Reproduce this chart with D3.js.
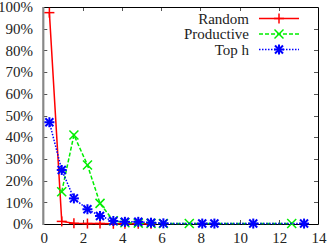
<!DOCTYPE html>
<html><head><meta charset="utf-8">
<script src="https://cdn.jsdelivr.net/npm/d3@7"></script>
<style>body{margin:0;background:#fff}svg{display:block}text{font-family:"Liberation Serif","DejaVu Serif",serif;fill:#222}</style>
</head><body><div id="c"></div>
<script>
const xs = [0.31,0.94,1.56,2.25,2.89,3.57,4.16,4.84,5.49,6.12,7.44,8.1,8.72,10.7,12.66,13.29];
const randomX = [0.31,0.94,1.56,2.25,2.89,3.57,4.16,4.84,5.49];
const randomY = [97.4,1.2,0.3,0.2,0.2,0.1,0.1,0.1,0.1];
const prodX = [0.94,1.56,2.25,2.89,3.57,4.16,4.84,5.49,6.12,7.44,12.66];
const prodY = [14.9,41.0,27.2,9.5,1.5,0.6,0.4,0.3,0.2,0.2,0.2];
const topX = [0.31,0.94,1.56,2.25,2.89,3.57,4.16,4.84,5.49,6.12,8.1,8.72,10.7,13.29];
const topY = [46.9,24.9,11.8,6.8,3.7,1.4,1.0,1.0,0.6,0.3,0.2,0.2,0.2,0.2];
const xTicks = [0,2,4,6,8,10,12,14];
const yTicks = [0,10,20,30,40,50,60,70,80,90,100];
const seriesNames = ["Random","Productive","Top h"];

const W=328,H=244, L=43.3, R=318, T=7, B=224;
const svg=d3.select("#c").append("svg").attr("width",W).attr("height",H);
const x=d3.scaleLinear().domain([0,14]).range([L,R]);
const y=d3.scaleLinear().domain([0,100]).range([B,T]);

// ticks (mirrored, inward)
const tk=4;
const g=svg.append("g").attr("stroke","#555").attr("stroke-width",1);
xTicks.slice(1,-1).forEach(v=>{
  g.append("line").attr("x1",Math.round(x(v))+0.5).attr("x2",Math.round(x(v))+0.5).attr("y1",B).attr("y2",B-tk);
  g.append("line").attr("x1",Math.round(x(v))+0.5).attr("x2",Math.round(x(v))+0.5).attr("y1",T).attr("y2",T+tk);
});
yTicks.slice(1,-1).forEach(v=>{
  g.append("line").attr("y1",Math.round(y(v))+0.5).attr("y2",Math.round(y(v))+0.5).attr("x1",L).attr("x2",L+tk);
  g.append("line").attr("y1",Math.round(y(v))+0.5).attr("y2",Math.round(y(v))+0.5).attr("x1",R).attr("x2",R-tk);
});
// tick labels
svg.append("g").selectAll("text").data(yTicks).join("text")
  .attr("x",33).attr("y",d=>y(d)).attr("dy","0.35em").attr("text-anchor","end")
  .attr("font-size",15).text(d=>d+"%");
svg.append("g").selectAll("text").data(xTicks).join("text")
  .attr("x",d=>x(d)+1).attr("y",238).attr("dy","0.35em").attr("text-anchor","middle")
  .attr("font-size",15).text(d=>d);

// frame
svg.append("path").attr("d",`M${L},${T+0.5}H${R+0.5}V${B+0.5}H${L}`).attr("fill","none").attr("stroke","#000").attr("stroke-width",1);
svg.append("line").attr("x1",L).attr("x2",L).attr("y1",T).attr("y2",B+1).attr("stroke","#888").attr("stroke-width",2.2);

const line=d3.line().x(d=>x(d[0])).y(d=>y(d[1]));
const series=[
  {xv:randomX,yv:randomY,color:"#ff0000",dash:null,marker:"plus"},
  {xv:prodX,yv:prodY,color:"#00ee00",dash:"4,2",marker:"cross"},
  {xv:topX,yv:topY,color:"#0000ff",dash:"1.5,1.5",marker:"star"}
];
function marker(sel,type,cx,cy,color){
  const s=5, p=[];
  if(type==="plus"||type==="star"){p.push([cx-s,cy,cx+s,cy],[cx,cy-s,cx,cy+s]);}
  if(type==="cross"||type==="star"){const k=type==="star"?4:4.5;p.push([cx-k,cy-k,cx+k,cy+k],[cx-k,cy+k,cx+k,cy-k]);}
  p.forEach(q=>sel.append("line").attr("x1",q[0]).attr("y1",q[1]).attr("x2",q[2]).attr("y2",q[3])
    .attr("stroke",color).attr("stroke-width",type==="star"?2:1.5));
}
// draw in order: Random, Productive, Top h
series.forEach(s=>{
  const pts=s.xv.map((v,i)=>[v,s.yv[i]]);
  svg.append("path").datum(pts).attr("d",line).attr("fill","none").attr("stroke",s.color)
    .attr("stroke-width",1.5).attr("stroke-dasharray",s.dash);
  const mg=svg.append("g");
  pts.forEach(p=>marker(mg,s.marker,x(p[0]),y(p[1]),s.color));
});

// legend
const ly=[18.5,34,49.5];
series.forEach((s,i)=>{
  svg.append("text").attr("x",249).attr("y",ly[i]).attr("dy","0.35em").attr("text-anchor","end")
    .attr("font-size",15).text(seriesNames[i]);
  svg.append("line").attr("x1",259).attr("x2",299).attr("y1",ly[i]).attr("y2",ly[i])
    .attr("stroke",s.color).attr("stroke-width",1.5).attr("stroke-dasharray",s.dash);
  marker(svg,s.marker,279,ly[i],s.color);
});
</script></body></html>
